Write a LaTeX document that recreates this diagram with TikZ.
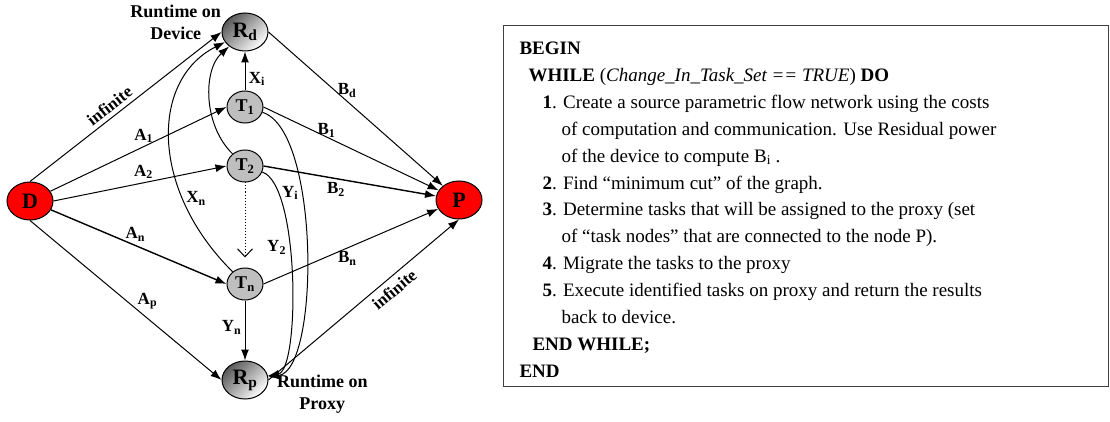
\documentclass[tikz,border=0pt]{standalone}
\usepackage{fontspec}
\setmainfont{Liberation Serif}
\usetikzlibrary{shapes.geometric,arrows.meta,calc,positioning}
\tikzstyle{terminal} = [ellipse, minimum width=46pt, minimum height=38pt, inner sep=0pt, draw=black, fill=red, font=\fontsize{22}{22}\selectfont\bfseries]
\tikzstyle{runtime} = [ellipse, minimum width=46pt, minimum height=38pt, inner sep=0pt, draw=black, top color=black!65, bottom color=white, shading angle=45, font=\fontsize{22}{22}\selectfont\bfseries]
\tikzstyle{task} = [ellipse, minimum width=36pt, minimum height=32pt, inner sep=0pt, draw=black, fill=black!25, font=\fontsize{18}{18}\selectfont\bfseries]
\tikzstyle{rtlabel} = [inner sep=0pt, align=center, font=\fontsize{18}{22}\selectfont\bfseries]
\tikzstyle{weight} = [font=\fontsize{17}{17}\selectfont\bfseries]
\tikzstyle{arrow} = [-{Latex[length=11pt,width=8pt]}]

\begin{document}
\begin{tikzpicture}[x=1pt,y=1pt,node distance=60pt,line width=1pt]
\useasboundingbox (0,0) rectangle (1110,-422);

\node (src) [terminal] at (30,-201) {D};
\node (sink) [terminal] at (459,-200) {P};
\node (rtdev) [runtime] at (245,-32) {R\textsubscript{d}};
\node (task1) [task, below of=rtdev, node distance=75pt] {T\textsubscript{1}};
\node (task2) [task, below of=task1, node distance=59pt] {T\textsubscript{2}};
\node (taskn) [task, below of=task2, node distance=118pt] {T\textsubscript{n}};
\node (rtprx) [runtime, below of=taskn, node distance=96pt] {R\textsubscript{p}};
\node (devlabel) [rtlabel, left=0pt of rtdev, yshift=10pt] {Runtime on\\Device};
\node (prxlabel) [rtlabel, right=8pt of rtprx, yshift=-14pt] {Runtime on\\Proxy};

% source side
\draw [arrow] (src.north) -- node[weight, sloped, above=1pt, pos=0.45] {infinite} (rtdev.west);
\draw [arrow] (src) -- node[weight, above, pos=0.53] {A\textsubscript{1}} (task1.west);
\draw [arrow] (src.east) -- node[weight, above, pos=0.52] {A\textsubscript{2}} (task2.west);
\draw [arrow, line width=1.4pt] (src) -- node[weight, above, pos=0.48] {A\textsubscript{n}} (taskn.west);
\draw [arrow] (src.south) -- node[weight, anchor=south west, inner sep=0pt, pos=0.56] {A\textsubscript{p}} (rtprx.west);
%
\draw [arrow] (task1) -- node[weight, right, pos=0.3] {X\textsubscript{i}} (rtdev);
\draw [arrow] (task2) .. controls +(-42,41) and +(-42,-38) .. (rtdev);
\draw [arrow] (taskn) .. controls +(-95,94) and +(-95,-48) .. node[weight, right, pos=0.28] {X\textsubscript{n}} (rtdev);
\draw [arrow] (task1) .. controls +(75,-23) and +(75,10) .. node[weight, left, pos=0.35] {Y\textsubscript{i}} (rtprx);
\draw [arrow] (task2) .. controls +(55,-19) and +(55,10) .. node[weight, left, pos=0.4] {Y\textsubscript{2}} (rtprx);
\draw [arrow] (taskn) -- node[weight, left, pos=0.45] {Y\textsubscript{n}} (rtprx);
\draw [dotted, -{Straight Barb[length=8pt,width=15pt]}, shorten >=10pt] (task2) -- (taskn);
% sink side
\draw [arrow] (rtdev.east) -- node[weight, above, pos=0.45] {B\textsubscript{d}} (sink);
\draw [arrow] (task1.east) -- node[weight, above=-4pt, pos=0.36] {B\textsubscript{1}} (sink);
\draw [arrow, line width=1.4pt] (task2.east) -- node[weight, below, pos=0.42] {B\textsubscript{2}} (sink);
\draw [arrow] (taskn.east) -- node[weight, below, pos=0.48] {B\textsubscript{n}} (sink);
\draw [arrow] (rtprx.east) -- node[weight, sloped, below=2pt, pos=0.62] {infinite} (sink.south);

% algorithm box
\node (algo) [draw=black!75, minimum width=605pt, minimum height=361pt, anchor=north west] at (503,-25) {};
\node (steps) [anchor=north west, inner sep=0pt, align=left, font=\fontsize{19}{26.9}\selectfont] at ($(algo.north west)+(16,-10.2)$) {%
\strut\textbf{BEGIN}\\
\hspace*{9pt}\textbf{WHILE} (\textit{Change\_In\_Task\_Set == TRUE}) \textbf{DO}\\
\hspace*{23pt}\textbf{1}. Create a source parametric flow network using the costs\\
\hspace*{42pt}of computation and communication. Use Residual power\\
\hspace*{42pt}of the device to compute B\textsubscript{i} .\\
\hspace*{23pt}\textbf{2}. Find “minimum cut” of the graph.\\
\hspace*{23pt}\textbf{3}. Determine tasks that will be assigned to the proxy (set\\
\hspace*{42pt}of “task nodes” that are connected to the node P).\\
\hspace*{23pt}\textbf{4}. Migrate the tasks to the proxy\\
\hspace*{23pt}\textbf{5}. Execute identified tasks on proxy and return the results\\
\hspace*{42pt}back to device.\\
\hspace*{13pt}\textbf{END WHILE;}\\
\textbf{END}};

\end{tikzpicture}
\end{document}
